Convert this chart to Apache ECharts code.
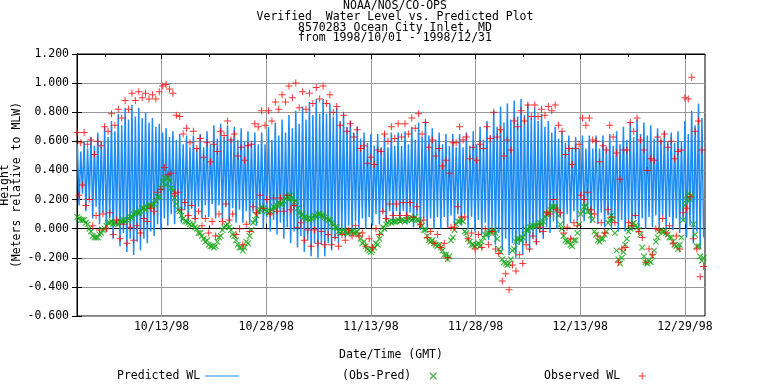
<!DOCTYPE html>
<html><head><meta charset="utf-8">
<script src="https://cdn.jsdelivr.net/npm/echarts@6/dist/echarts.min.js"></script>
<style>html,body{margin:0;padding:0;background:#fff}#c{width:768px;height:384px}</style>
</head><body><div id="c"></div>
<script>
// ---- text ----
const titleLines = ['NOAA/NOS/CO-OPS', 'Verified  Water Level vs. Predicted Plot', '8570283 Ocean City Inlet, MD', 'from 1998/10/01 - 1998/12/31'];
const xAxisTitle = 'Date/Time (GMT)';
const yAxisTitle = 'Height\n(Meters relative to MLW)';
const seriesNames = ['Predicted WL', '(Obs-Pred)', 'Observed WL'];
// x axis: days since 1998/10/01 00:00 GMT
const xTickLabels = ['10/13/98', '10/28/98', '11/13/98', '11/28/98', '12/13/98', '12/29/98'];
const xMajorTicks = [12.39, 27.72, 43.06, 58.39, 73.72, 89.06];
const xMinorTicks = [4.09, 19.42, 34.76, 50.09, 65.42, 80.76];
// time of day (fraction) of the four daily tides: higher high, lower low, lower high, higher low
const tideTimes = [0.05, 0.30, 0.55, 0.80];

// ---- predicted tides (m, MLW), one value per day ----
const predHH = [.58,.60,.63,.66,.70,.74,.79,.83,.85,.83, .80,.76,.72,.69,.67,.65,.64,.64,.65,.67,
 .71,.72,.71,.70,.69,.67,.66,.66,.70,.73, .75,.78,.81,.84,.87,.89,.89,.86,.83,.79,
 .74,.70,.66,.65,.65,.65,.66,.66,.67,.70, .73,.74,.69,.66,.65,.65,.65,.66,.67,.70,
 .74,.81,.84,.86,.88,.89,.86,.83,.79,.74, .70,.67,.64,.63,.64,.64,.64,.64,.65,.67,
 .70,.73,.75,.73,.71,.69,.67,.66,.67,.74, .81,.86];
const predLL = [.16,.12,.07,.03,-.02,-.07,-.12,-.16,-.18,-.15, -.10,-.05,-.01,.02,.03,.04,.05,.06,.07,.08,
 .07,.06,.05,.04,.04,.03,.02,.00,-.02,-.04, -.07,-.10,-.13,-.16,-.19,-.20,-.19,-.15,-.10,-.06,
 -.03,-.01,.00,.02,.03,.04,.04,.04,.03,.01, -.01,-.01,.00,.00,.01,.02,.02,.00,-.02,-.04,
 -.08,-.11,-.15,-.18,-.20,-.18,-.15,-.11,-.07,-.03, .00,.02,.04,.05,.05,.04,.03,.01,-.01,-.02,
 -.02,-.01,-.01,.00,.01,.01,.00,-.01,-.03,-.06, -.10,-.14];
const predLH = [.53,.55,.57,.60,.63,.67,.71,.75,.77,.76, .73,.70,.66,.63,.61,.58,.56,.55,.56,.58,
 .62,.63,.62,.61,.60,.59,.58,.58,.61,.64, .66,.69,.72,.75,.78,.79,.79,.77,.74,.70,
 .66,.62,.59,.57,.56,.56,.57,.57,.58,.61, .63,.64,.61,.58,.57,.56,.56,.57,.58,.61,
 .64,.70,.73,.75,.77,.78,.76,.74,.70,.66, .62,.59,.56,.55,.55,.55,.55,.56,.57,.58,
 .61,.63,.65,.64,.62,.61,.60,.59,.60,.65, .71,.76];
const predHL = [.24,.20,.15,.11,.07,.02,-.03,-.07,-.09,-.07, -.02,.03,.07,.10,.12,.13,.14,.15,.16,.17,
 .16,.15,.14,.13,.12,.11,.10,.08,.06,.04, .01,-.02,-.05,-.08,-.10,-.11,-.10,-.07,-.02,.02,
 .05,.07,.08,.10,.11,.12,.12,.12,.11,.09, .07,.07,.08,.08,.09,.10,.10,.08,.06,.04,
 .00,-.03,-.07,-.10,-.11,-.10,-.07,-.03,.01,.05, .08,.10,.12,.13,.13,.12,.11,.09,.07,.06,
 .06,.07,.07,.08,.09,.09,.08,.07,.05,.02, -.02,-.06];

// ---- observed minus predicted (m) at the same tides ----
const resHH = [.08,.06,-.02,-.06,.00,.05,.03,.05,.08,.11, .13,.16,.22,.30,.26,.12,.05,.03,-.03,-.08,
 -.13,-.05,.03,-.05,-.13,-.10,.06,.15,.11,.14, .17,.20,.19,.10,.06,.08,.09,.06,.01,-.01,
 -.02,-.02,-.09,-.16,-.11,.00,.04,.06,.05,.06, .06,-.01,-.08,-.11,-.18,-.06,.05,-.03,-.11,-.12,
 -.04,-.01,-.16,-.25,-.14,-.08,-.01,.02,.03,.10, .15,.00,-.09,-.08,.12,.12,-.04,-.07,.06,-.15,
 -.16,.00,.01,-.19,-.23,-.06,-.02,-.06,-.14,.16, .23,-.12];
const resLL = [.07,.04,-.05,-.04,.02,.03,.05,.06,.10,.12, .15,.17,.28,.35,.21,.09,.04,.01,-.05,-.11,
 -.12,-.01,.01,-.08,-.15,-.05,.09,.14,.12,.16, .19,.23,.14,.08,.07,.10,.08,.04,-.02,-.02,
 -.02,-.04,-.12,-.15,-.07,.03,.05,.05,.06,.07, .04,-.05,-.10,-.13,-.21,-.01,.06,-.07,-.12,-.09,
 -.03,-.03,-.21,-.24,-.09,-.06,.01,.02,.05,.13, .13,-.05,-.11,-.03,.15,.09,-.08,-.04,.09,-.21,
 -.11,.03,-.01,-.23,-.19,-.02,-.03,-.09,-.11,.20, .03,-.19];
const resLH = [.06,.03,-.06,-.03,.04,.04,.05,.07,.11,.14, .16,.19,.32,.33,.17,.07,.03,.00,-.07,-.12,
 -.09,.01,-.01,-.11,-.13,-.01,.12,.13,.13,.18, .21,.21,.11,.07,.08,.10,.07,.03,-.03,-.03,
 -.03,-.07,-.14,-.13,-.03,.04,.05,.06,.07,.08, .02,-.08,-.11,-.15,-.19,.03,.05,-.09,-.11,-.06,
 -.02,-.07,-.23,-.21,-.07,-.04,.01,.03,.08,.15, .09,-.08,-.12,.03,.16,.06,-.09,-.02,.06,-.24,
 -.07,.04,-.04,-.24,-.15,-.01,-.04,-.11,-.06,.24, -.04,-.22];
const resHL = [.06,.00,-.06,-.01,.04,.04,.06,.08,.11,.14, .16,.22,.35,.28,.13,.05,.02,-.03,-.09,-.12,
 -.06,.02,-.04,-.13,-.09,.04,.13,.12,.15,.17, .22,.18,.09,.07,.09,.09,.06,.01,-.02,-.03,
 -.03,-.10,-.15,-.10,.01,.05,.05,.06,.07,.06, -.01,-.09,-.12,-.18,-.08,.05,-.02,-.11,-.10,-.04,
 -.02,-.14,-.24,-.15,-.07,-.01,.02,.04,.10,.15, .03,-.09,-.08,.10,.12,-.02,-.07,.04,-.03,-.20,
 -.02,.02,-.13,-.22,-.09,-.02,-.06,-.12,.06,.20, -.12,-.20];

// ---- build series tables ----
const predSets = [predHH, predLL, predLH, predHL];
const resSets = [resHH, resLL, resLH, resHL];
const predData = [], resData = [], obsData = [];
for (let d = 0; d < predHH.length; d++) {
  for (let k = 0; k < 4; k++) {
    const t = d + tideTimes[k];
    const p = predSets[k][d], r = resSets[k][d];
    predData.push([t, p]);
    resData.push([t, r]);
    obsData.push([t, +(p + r).toFixed(3)]);
  }
}

const mono = 'DejaVu Sans Mono';
const fs = 11.5;
const txt = {fontFamily: mono, fontSize: fs, color: '#000', fontWeight: 'normal'};
const plusPath = 'path://M3,0H4V3H7V4H4V7H3V4H0V3H3Z';
const crossPath = 'path://M0,0L1,0L3.5,2.5L6,0L7,0L7,1L4.5,3.5L7,6L7,7L6,7L3.5,4.5L1,7L0,7L0,6L2.5,3.5L0,1Z';
const linePath = 'path://M0,0H34V1.2H0Z';
const gridRect = {left: 77, top: 54, width: 628, height: 262};
const blue = '#1c8cf4';

const legendBase = {top: 370, padding: 0, align: 'right', itemWidth: 34, itemHeight: 7,
  selectedMode: false, textStyle: txt};

const chart = echarts.init(document.getElementById('c'), null, {renderer: 'canvas'});
chart.setOption({
  animation: false,
  backgroundColor: '#fff',
  title: {text: titleLines.join('\n'), left: 395, top: 1, padding: 0, textAlign: 'center',
    textStyle: Object.assign({}, txt, {lineHeight: 10.7})},
  graphic: [
    {type: 'text', x: 11, y: 185, rotation: Math.PI / 2, silent: true,
      style: {text: yAxisTitle, align: 'center', verticalAlign: 'middle', fill: '#000',
        font: fs + 'px "' + mono + '"', lineHeight: 12}}
  ],
  grid: [
    Object.assign({show: true, borderColor: '#000', borderWidth: 1}, gridRect),
    Object.assign({show: false}, gridRect)
  ],
  xAxis: [
    {type: 'value', gridIndex: 0, min: 0, max: 92, position: 'bottom',
      name: xAxisTitle, nameLocation: 'middle', nameGap: 33, nameTextStyle: txt,
      axisLine: {show: true, lineStyle: {color: '#000', width: 1}},
      axisTick: {show: true, inside: true, length: 5, customValues: xMajorTicks, lineStyle: {color: '#000'}},
      axisLabel: Object.assign({customValues: xMajorTicks, margin: 5,
        formatter: v => { const i = xMajorTicks.indexOf(v); return i >= 0 ? xTickLabels[i] : ''; }}, txt),
      splitLine: {show: true, lineStyle: {color: '#999', width: 1}}},
    {type: 'value', gridIndex: 0, min: 0, max: 92, position: 'top',
      axisLine: {show: true, lineStyle: {color: '#000', width: 1}},
      axisTick: {show: true, inside: true, length: 5, customValues: xMajorTicks, lineStyle: {color: '#000'}},
      axisLabel: {show: false}, splitLine: {show: false}},
    {type: 'value', gridIndex: 1, min: 0, max: 92, position: 'bottom',
      axisLine: {show: false},
      axisTick: {show: true, inside: true, length: 3, customValues: xMinorTicks, lineStyle: {color: '#000'}},
      axisLabel: {show: false}, splitLine: {show: false}},
    {type: 'value', gridIndex: 1, min: 0, max: 92, position: 'top',
      axisLine: {show: false},
      axisTick: {show: true, inside: true, length: 3, customValues: xMinorTicks, lineStyle: {color: '#000'}},
      axisLabel: {show: false}, splitLine: {show: false}}
  ],
  yAxis: [
    {type: 'value', gridIndex: 0, min: -0.6, max: 1.2, interval: 0.2, position: 'left',
      axisLine: {show: true, lineStyle: {color: '#000', width: 1}},
      axisTick: {show: true, inside: true, length: 5, lineStyle: {color: '#000'}},
      axisLabel: Object.assign({margin: 8, formatter: v => v.toFixed(3)}, txt),
      splitLine: {show: true, lineStyle: {color: '#999', width: 1}}},
    {type: 'value', gridIndex: 1, min: -0.6, max: 1.2, interval: 0.2, position: 'right',
      axisLine: {show: true, lineStyle: {color: '#000', width: 1}},
      axisTick: {show: true, inside: true, length: 5, lineStyle: {color: '#000'}},
      axisLabel: {show: false}, splitLine: {show: false}}
  ],
  legend: [
    Object.assign({data: [{name: seriesNames[0], icon: linePath}], left: 117}, legendBase),
    Object.assign({data: [seriesNames[1]], left: 342}, legendBase),
    Object.assign({data: [seriesNames[2]], left: 544}, legendBase)
  ],
  series: [
    {name: seriesNames[0], type: 'line', xAxisIndex: 0, yAxisIndex: 0, data: predData,
      symbol: 'none', lineStyle: {color: blue, width: 1.5}, itemStyle: {color: blue}, z: 2},
    {name: seriesNames[1], type: 'scatter', xAxisIndex: 0, yAxisIndex: 0, data: resData,
      symbol: crossPath, symbolSize: 6, itemStyle: {color: '#1aa81a'}, z: 3},
    {name: seriesNames[2], type: 'scatter', xAxisIndex: 0, yAxisIndex: 0, data: obsData,
      symbol: plusPath, symbolSize: 7, itemStyle: {color: '#ff0000'}, z: 4}
  ]
});
</script></body></html>
